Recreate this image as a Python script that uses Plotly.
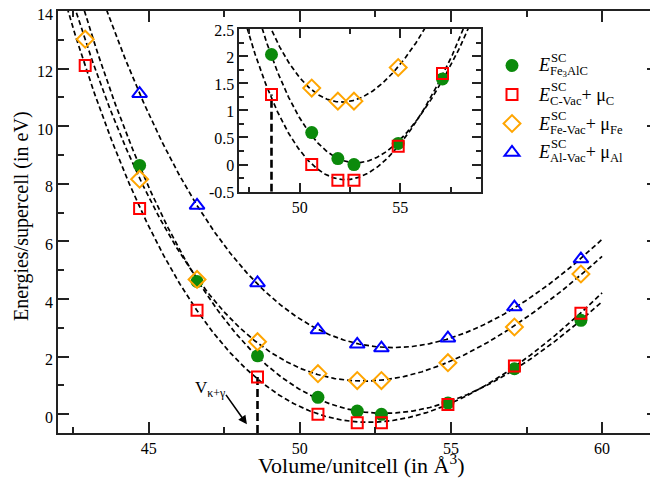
import numpy as np
import plotly.graph_objects as go

# ---------------- data ----------------
volume = [42.9, 44.7, 46.6, 48.6, 50.6, 51.9, 52.7, 54.9, 57.1, 59.3]
e_fe3alc = [None, 8.64, 4.61, 2.03, 0.59, 0.11, 0.00, 0.39, 1.58, 3.26]
e_cvac = [12.11, 7.14, 3.61, 1.29, 0.00, -0.29, -0.29, 0.34, 1.68, 3.51]
e_fevac = [13.02, 8.16, 4.68, 2.52, 1.41, 1.17, 1.17, 1.79, 3.03, 4.87]
e_alvac = [None, 11.13, 7.25, 4.56, 2.93, 2.43, 2.30, 2.64, 3.72, 5.39]
v_kappa_gamma = 48.6
e_at_v_kg = 1.29

inset_y_ticks = [-0.5, 0, 0.5, 1, 1.5, 2, 2.5]
inset_y_labels = ["-0.5", "0", "0.5", "1", "1.5", "2", "2.5"]
inset_y_max = 2.5

FONT = "Liberation Serif"
GREEN = "#0b8a0b"
RED = "#ff0000"
ORANGE = "#ffa500"
BLUE = "#0000ff"
AXC = "#222222"


def bm_fit(v, e):
    """Birch-Murnaghan style fit: cubic polynomial in V^(-2/3)."""
    pts = [(a, b) for a, b in zip(v, e) if b is not None]
    vv = np.array([p[0] for p in pts], float)
    ee = np.array([p[1] for p in pts], float)
    poly = np.polynomial.Polynomial.fit(vv ** (-2.0 / 3.0), ee, 3)
    return lambda x: poly(np.asarray(x, float) ** (-2.0 / 3.0))


fits = {
    "fe3alc": bm_fit(volume, e_fe3alc),
    "cvac": bm_fit(volume, e_cvac),
    "fevac": bm_fit(volume, e_fevac),
    "alvac": bm_fit(volume, e_alvac),
}
vgrid = np.linspace(42.0, 60.0, 500)

fig = go.Figure()

dash_line = dict(color="black", width=1.7, dash="5px,3px")

# fitted curves (main)
for key in ["fe3alc", "cvac", "fevac", "alvac"]:
    fig.add_trace(go.Scatter(x=vgrid, y=fits[key](vgrid), mode="lines",
                             line=dash_line, showlegend=False, hoverinfo="skip",
                             xaxis="x", yaxis="y"))
# fitted curves (inset)
for key in ["fe3alc", "cvac", "fevac"]:
    fig.add_trace(go.Scatter(x=vgrid, y=fits[key](vgrid), mode="lines",
                             line=dash_line, showlegend=False, hoverinfo="skip",
                             xaxis="x2", yaxis="y2"))

# vertical V_kappa+gamma lines
for xa, ya, ymin in [("x", "y", -0.65), ("x2", "y2", -0.5)]:
    fig.add_trace(go.Scatter(x=[v_kappa_gamma, v_kappa_gamma], y=[ymin, e_at_v_kg],
                             mode="lines", line=dict(color="black", width=2.6, dash="8px,4px"),
                             showlegend=False, hoverinfo="skip", xaxis=xa, yaxis=ya))

series = [
    ("Fe3AlC", e_fe3alc, dict(symbol="circle", size=13, color=GREEN,
                              line=dict(width=0, color=GREEN))),
    ("C-Vac", e_cvac, dict(symbol="square-open", size=11, color=RED,
                           line=dict(width=2, color=RED))),
    ("Fe-Vac", e_fevac, dict(symbol="diamond-open", size=13, color=ORANGE,
                             line=dict(width=2, color=ORANGE))),
    ("Al-Vac", e_alvac, dict(symbol="triangle-up-open", size=13, color=BLUE,
                             line=dict(width=2, color=BLUE))),
]

for name, vals, mk in series:
    fig.add_trace(go.Scatter(x=volume, y=vals, mode="markers", marker=mk, name=name,
                             showlegend=True, xaxis="x", yaxis="y"))
for name, vals, mk in series[:3]:
    ins = [(v, e) for v, e in zip(volume, vals) if e is not None and e < inset_y_max]
    fig.add_trace(go.Scatter(x=[p[0] for p in ins], y=[p[1] for p in ins],
                             mode="markers", marker=mk, name=name,
                             showlegend=False, xaxis="x2", yaxis="y2"))

# ---------------- layout ----------------
# page body has an 8px margin: work in reference-window pixels, convert to figure pixels
OFF = 8
W, H = 658 - OFF, 480 - OFF
L = 58 - OFF          # left frame at x=58 in the window
T = 11 - OFF          # top frame at y=11
B = 480 - 433         # bottom frame at y=433
R = 0
PW, PH = W - L - R, H - T - B


def px(xw):
    return (xw - OFF - L) / PW


def py(yw):
    return (H - B - (yw - OFF)) / PH


tickfont = dict(family=FONT, size=16, color="black")
common = dict(showline=True, linecolor=AXC, linewidth=1.5, mirror="ticks",
              ticks="inside", tickcolor=AXC, tickwidth=1.5, showgrid=False,
              zeroline=False, tickfont=tickfont, ticklabeloverflow="allow")

fig.update_layout(
    width=W, height=H,
    margin=dict(l=L, r=R, t=T, b=B, autoexpand=False),
    paper_bgcolor="white", plot_bgcolor="white",
    font=dict(family=FONT, color="black"),
    xaxis=dict(range=[42, 61.85], dtick=5, tick0=0, ticklen=11,
               minor=dict(dtick=2.5, tick0=0, ticklen=6, ticks="inside",
                          tickcolor=AXC, tickwidth=1.5),
               **common),
    yaxis=dict(range=[-0.65, 14], dtick=2, tick0=0, ticklen=11, ticklabelshift=3,
               minor=dict(dtick=1, tick0=0, ticklen=6, ticks="inside",
                          tickcolor=AXC, tickwidth=1.5),
               **common),
    xaxis2=dict(range=[47, 59], dtick=5, tick0=0, ticklen=9, anchor="y2",
                domain=[px(239.3), px(480.7)],
                minor=dict(dtick=2.5, tick0=0, ticklen=5, ticks="inside",
                           tickcolor=AXC, tickwidth=1.5),
                **common),
    yaxis2=dict(range=[-0.5, 2.5], tickmode="array", tickvals=inset_y_ticks,
                ticktext=inset_y_labels, ticklen=9, anchor="x2", ticklabelshift=1,
                domain=[py(191.7), py(29)],
                minor=dict(dtick=0.25, tick0=0, ticklen=5, ticks="inside",
                           tickcolor=AXC, tickwidth=1.5),
                **common),
    legend=dict(x=px(492), y=py(46), xanchor="left", yanchor="top",
                bgcolor="rgba(0,0,0,0)", borderwidth=0,
                font=dict(family=FONT, size=20, color="rgba(0,0,0,0)")),
    showlegend=True,
)

ann = []
# axis titles
ann.append(dict(text="Volume/unitcell (in Å<sup>3</sup>)", xref="paper", yref="paper",
                x=px(361), y=py(464), xanchor="center", yanchor="middle",
                showarrow=False, font=dict(family=FONT, size=22, color="black")))
ann.append(dict(text="Energies/supercell (in eV)", xref="paper", yref="paper",
                x=px(22), y=py(216), xanchor="center", yanchor="middle", textangle=-90,
                showarrow=False, font=dict(family=FONT, size=20, color="black")))

# V kappa+gamma label and arrow
ann.append(dict(text="V<sub>κ+γ</sub>", xref="x", yref="y", x=47.04, y=0.87,
                xanchor="center", yanchor="middle", showarrow=False,
                font=dict(family=FONT, size=17, color="black")))
ann.append(dict(text="", xref="x", yref="y", x=48.25, y=-0.35, ax=-22, ay=-31,
                showarrow=True, arrowhead=2, arrowsize=1.1, arrowwidth=1.6,
                arrowcolor="black"))

# legend texts
legend_texts = [
    "<i>E</i><sub>Fe<sub>3</sub>AlC</sub>",
    "<i>E</i><sub>C-Vac</sub>+ μ<sub>C</sub>",
    "<i>E</i><sub>Fe-Vac</sub>+ μ<sub>Fe</sub>",
    "<i>E</i><sub>Al-Vac</sub>+ μ<sub>Al</sub>",
]
legend_yc = [67, 96, 125, 153]
for txt, yc in zip(legend_texts, legend_yc):
    ann.append(dict(text=txt, xref="paper", yref="paper", x=px(536), y=py(yc),
                    xanchor="left", yanchor="middle", showarrow=False,
                    font=dict(family=FONT, size=18, color="black")))
    ann.append(dict(text="SC", xref="paper", yref="paper", x=px(549), y=py(yc - 9),
                    xanchor="left", yanchor="middle", showarrow=False,
                    font=dict(family=FONT, size=12.6, color="black")))

fig.update_layout(annotations=ann)

fig.write_html("out.html")
